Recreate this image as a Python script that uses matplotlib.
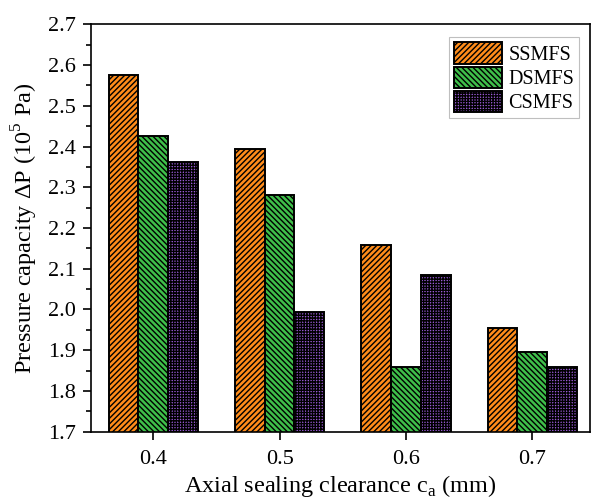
import numpy as np
import matplotlib.pyplot as plt
from matplotlib.ticker import MultipleLocator

clearance = [0.4, 0.5, 0.6, 0.7]
ssmfs = [2.576, 2.394, 2.158, 1.955]
dsmfs = [2.426, 2.282, 1.858, 1.896]
csmfs = [2.363, 1.994, 2.084, 1.860]

plt.rcParams['font.family'] = ['Liberation Serif', 'DejaVu Serif']
plt.rcParams['hatch.linewidth'] = 1.0

fig = plt.figure(figsize=(5.92, 5.03), dpi=100)
ax = fig.add_axes([0.1537, 0.1417, 0.8430, 0.8100])

x = np.array(clearance)
w = 0.0235
ax.bar(x - w, ssmfs, width=w, color='#ff8c1a', edgecolor='black',
       hatch='//////', linewidth=1.4, label='SSMFS')
ax.bar(x, dsmfs, width=w, color='#3fbf4a', edgecolor='black',
       hatch='\\\\\\\\\\\\', linewidth=1.4, label='DSMFS')
ax.bar(x + w, csmfs, width=w, color='#9a5bd6', edgecolor='black',
       hatch='++++++', linewidth=1.4, label='CSMFS')

ax.set_xlim(0.3507, 0.7457)
ax.set_ylim(1.7, 2.7)
ax.set_xticks(clearance)
ax.set_xticklabels(['0.4', '0.5', '0.6', '0.7'])
ax.yaxis.set_major_locator(MultipleLocator(0.1))
ax.yaxis.set_minor_locator(MultipleLocator(0.05))
ax.tick_params(axis='y', which='major', direction='out', length=6, width=1.2,
               labelsize=16, pad=5)
ax.tick_params(axis='x', which='major', direction='out', length=6, width=1.2,
               labelsize=16, pad=7)
ax.tick_params(axis='y', which='minor', direction='out', length=3.5, width=1.2)
for s in ax.spines.values():
    s.set_linewidth(1.2)

ax.set_xlabel('Axial sealing clearance c$_\\mathregular{a}$ (mm)', fontsize=17.5,
              labelpad=3)
ax.set_ylabel('Pressure capacity \u0394P (10$^\\mathregular{5}$ Pa)', fontsize=17.5,
              labelpad=6)

leg = ax.legend(loc='upper right', fontsize=14.5, frameon=True, fancybox=False,
                edgecolor='#b0b0b0', handlelength=2.4, handleheight=1.25,
                handletextpad=0.3, labelspacing=0.09, borderpad=0.25,
                borderaxespad=0, bbox_to_anchor=(0.978, 0.968))
leg.get_frame().set_linewidth(0.8)

fig.savefig('out.png', dpi=100)
